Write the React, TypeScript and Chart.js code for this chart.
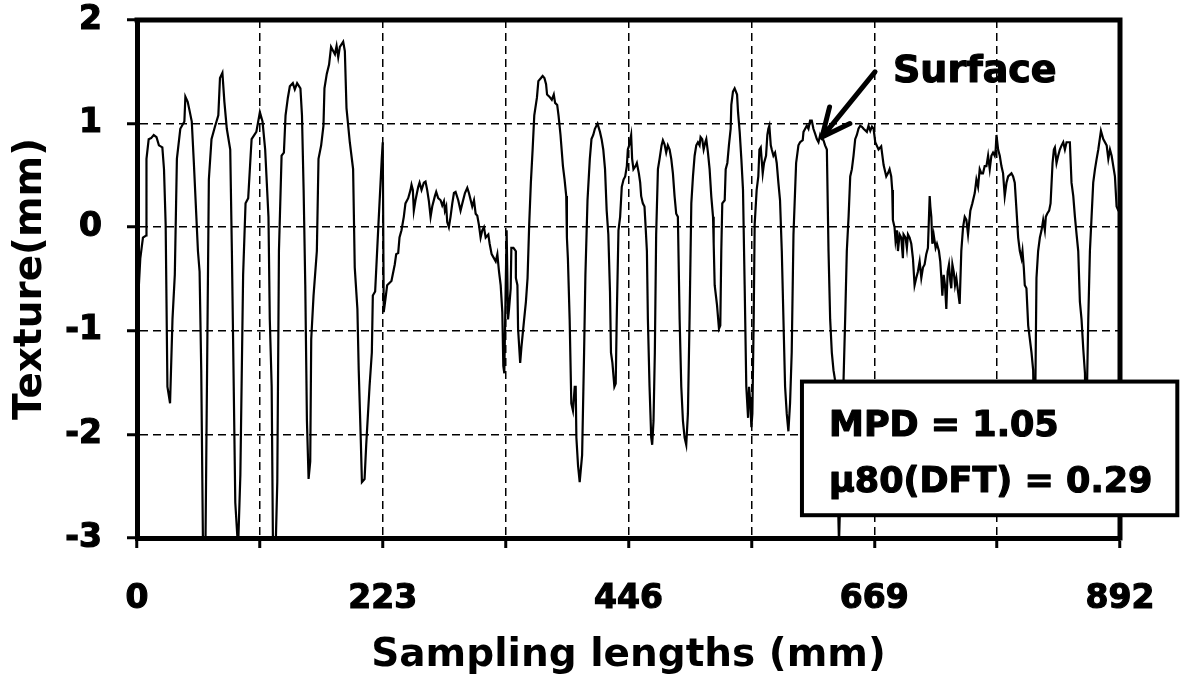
import { useEffect, useRef } from "react";
import { Chart, registerables } from "chart.js";

Chart.register(...registerables);

// ---- axis definition ----
const X_MIN = 0;
const X_MAX = 892;
const X_GRID_STEP = 111.5;
const X_LABEL_STEP = 223;
const Y_MIN = -3;
const Y_MAX = 2;
const Y_STEP = 1;
const X_TITLE = "Sampling lengths (mm)";
const Y_TITLE = "Texture(mm)";
const BOX_LINES = ["MPD = 1.05", "\u03bc80(DFT) = 0.29"];
const ARROW_LABEL = "Surface";

// ---- texture profile [sampling length (mm), texture (mm)] ----
const profile0to111: [number, number][] = [
  [0, -1.05], [1.5, -0.6], [3, -0.3], [5.4, -0.1], [8.2, -0.08], [8.6, 0.66], [10.6, 0.85], [12.8, 0.86],
  [15.2, 0.89], [17.7, 0.87], [19.9, 0.79], [23, 0.77], [24.5, 0.56], [26, 0.03], [27.6, -1.54], [30, -1.7],
  [32.2, -0.89], [34.3, -0.46], [36.2, 0.66], [39.3, 0.95], [43, 1.02], [43.9, 1.26], [46, 1.21], [47.6, 1.13],
  [49.7, 1.02], [51.6, 0.62], [55.3, -0.23], [56.8, -0.43], [58.3, -1.38], [59.9, -3.1], [62.1, -3.1], [65.2, 0.46],
  [67.6, 0.85], [70.7, 0.97], [73.8, 1.08], [75.3, 1.44], [77.5, 1.49], [79.3, 1.21], [81.5, 0.95], [84.6, 0.75],
  [86.1, -0.23], [87.7, -1.48], [89.2, -2.66], [91.7, -3.1], [93.8, -2.39], [96.3, -0.46], [98.5, 0.23], [100.9, 0.28],
  [103.1, 0.69], [104, 0.85], [108.3, 0.92],
];
const profile111to223: [number, number][] = [
  [111.5, 1.11], [113.9, 1.02], [116.3, 0.75], [119.3, 0.1], [120.5, -0.89], [122.2, -1.54], [123.4, -3.1], [125.8, -3.1],
  [127.3, -2.46], [128.8, -0.23], [131.2, 0.69], [133.3, 0.72], [134.8, 1.08], [136.9, 1.25], [138.7, 1.36], [141.4, 1.39],
  [143.2, 1.33], [145.3, 1.39], [148.3, 1.34], [149.7, 1.08], [151.2, 0.36], [152.7, -0.56], [154.2, -1.87], [155.7, -2.43],
  [157.2, -2.26], [158.1, -1.08], [160.2, -0.66], [163.2, -0.23], [164.7, 0.66], [167.1, 0.79], [169.2, 0.98], [170.1, 1.34],
  [172.2, 1.48], [174.3, 1.57], [176.1, 1.74], [179.6, 1.67], [181.1, 1.75], [182.6, 1.64], [184.1, 1.74], [187.1, 1.79],
  [188.6, 1.7], [190.1, 1.15], [193.1, 0.82], [196.1, 0.56], [197.6, -0.39], [200, -0.79], [201.2, -1.38], [203, -2.03],
  [204.1, -2.46], [206.5, -2.43], [208, -2.1], [211, -1.54], [213.1, -1.21], [214, -0.66], [216.1, -0.62], [219.1, 0.03],
  [222.1, 0.66],
];
const profile223to334: [number, number][] = [
  [223, 0.82], [223.9, -0.82], [225.5, -0.69], [227, -0.56], [230.9, -0.52], [233.9, -0.36], [235.2, -0.26], [237, -0.25],
  [238.2, -0.1], [240, -0.03], [242.1, 0.1], [243.6, 0.23], [246.1, 0.28], [248.2, 0.36], [249.1, 0.41], [250.3, 0.36],
  [251.2, 0.16], [252.7, 0.26], [255.2, 0.39], [256.4, 0.43], [258.2, 0.36], [260.3, 0.43], [261.8, 0.44], [263.3, 0.36],
  [264.9, 0.25], [266.4, 0.1], [267.9, 0.2], [270.3, 0.3], [271.5, 0.34], [273.3, 0.28], [275.5, 0.26], [277, 0.21],
  [278.5, 0.25], [279.4, 0.16], [280.6, 0.2], [281.5, 0.05], [283, 0], [284.5, 0.1], [286.1, 0.23], [287.6, 0.33],
  [289.1, 0.34], [291.5, 0.26], [293.6, 0.16], [295.2, 0.23], [297.6, 0.33], [299.7, 0.38], [301.2, 0.33], [304.2, 0.2],
  [305.8, 0.26], [307.3, 0.13], [308.8, 0.11], [310.3, 0.02], [311.8, -0.1], [313.3, -0.03], [314.8, 0], [316.4, -0.1],
  [318.8, -0.07], [320, -0.16], [321.8, -0.26], [325.5, -0.33], [327, -0.26], [328.5, -0.43], [330, -0.56], [331.5, -0.82],
  [332.4, -1.34], [333.3, -1.41],
];
const profile334to446: [number, number][] = [
  [335.4, -0.03], [336.7, -0.89], [337.6, -0.79], [339.1, -0.59], [339.7, -0.2], [341.6, -0.2], [343.7, -0.23], [343.8, -0.49],
  [345.2, -0.56], [345.8, -0.98], [347.7, -1.31], [348.9, -1.15], [351.3, -0.89], [352.9, -0.72], [354.4, -0.49], [355.9, 0.03],
  [357.4, 0.43], [359, 0.75], [360.5, 1.08], [362.9, 1.25], [364.2, 1.41], [366.6, 1.44], [368.1, 1.46], [369.7, 1.44],
  [371.2, 1.38], [372.1, 1.28], [374.2, 1.26], [376.4, 1.23], [378.2, 1.28], [379.4, 1.2], [381.3, 1.18], [382.5, 1.08],
  [384.3, 0.89], [386.5, 0.59], [388, 0.46], [389.5, 0.3], [390.1, -0.1], [391, -0.3], [392.6, -0.89], [394.1, -1.7],
  [395.6, -1.77], [397.2, -1.54], [398.1, -1.54], [398.7, -2.03], [400.2, -2.3], [401.7, -2.46], [403.9, -2.2], [405.7, -1.21],
  [406.9, -0.46], [408.8, 0.26], [410.9, 0.66], [412.4, 0.85], [414, 0.89], [415.5, 0.95], [417.9, 1], [420.1, 0.92],
  [421.6, 0.85], [423.1, 0.75], [424.7, 0.56], [426.2, 0.16], [427.7, -0.07], [429.2, -0.62], [430.1, -1.21], [431.4, -1.31],
  [433.2, -1.54], [434.4, -1.51], [435.3, -0.89], [436.9, -0.03], [438.4, 0.1], [439.9, 0.39], [441.5, 0.46], [443, 0.49],
  [444.5, 0.59], [445.4, 0.75], [446.6, 0.79],
];
const profile446to557: [number, number][] = [
  [448.4, 0.89], [449.3, 0.66], [450.5, 0.56], [452.4, 0.59], [453.6, 0.62], [455.4, 0.52], [456.6, 0.43], [457.5, 0.3],
  [459, 0.23], [460.5, 0.2], [461.4, 0.03], [462.7, -0.23], [463.6, -0.89], [465.1, -1.54], [466.6, -2.03], [467.5, -2.1],
  [468.7, -1.87], [469.9, -1.21], [471.1, -0.07], [472.7, 0.56], [474.2, 0.66], [476, 0.79], [477.2, 0.84], [478.7, 0.8],
  [480.2, 0.72], [481.7, 0.79], [483.3, 0.75], [484.8, 0.66], [486.3, 0.52], [487.8, 0.3], [489.3, 0.13], [490.8, 0.1],
  [492.4, -0.89], [493.9, -1.54], [495.4, -1.87], [496.9, -2.03], [498.4, -2.1], [499.9, -1.8], [501.4, -0.89], [503, 0.23],
  [504.5, 0.49], [506, 0.69], [507.5, 0.79], [509, 0.82], [510.5, 0.79], [511.4, 0.87], [512.9, 0.85], [514.2, 0.75],
  [515.7, 0.82], [516.6, 0.85], [518.1, 0.72], [519.6, 0.56], [521.1, 0.3], [522.7, 0.1], [523.3, -0.16], [524.2, -0.56],
  [526.3, -0.75], [528.1, -0.98], [529.3, -0.95], [530.2, -0.23], [531.1, 0.23], [533.3, 0.26], [534.2, 0.56], [535.7, 0.62],
  [537.2, 0.8], [538.7, 0.95], [539.3, 1.18], [540.8, 1.31], [542.3, 1.34], [544.5, 1.28], [545.4, 1.11], [546.9, 0.92],
  [548.4, 0.66], [549.9, 0.36], [551.4, -0.56], [552.9, -1.54], [554.5, -1.84], [555.4, -1.54], [556.6, -1.7], [557.5, -1.93],
];
const profile557to669: [number, number][] = [
  [558.4, -1.8], [559.6, -0.89], [560.5, 0.03], [562.3, 0.36], [563.8, 0.49], [564.8, 0.75], [566, 0.77], [567.8, 0.52],
  [569, 0.62], [570.8, 0.69], [572, 0.89], [572.9, 0.95], [573.8, 0.98], [575.1, 0.79], [576, 0.75], [577.5, 0.69],
  [579, 0.72], [580.5, 0.62], [582, 0.43], [583.5, 0.26], [585.1, -0.23], [586.6, -0.89], [588.1, -1.54], [589.6, -1.8],
  [591.1, -1.97], [592.6, -1.7], [594.1, -1.21], [595.7, -0.07], [597.2, 0.36], [598.1, 0.62], [600.2, 0.79], [601.7, 0.82],
  [604.1, 0.84], [604.8, 0.92], [606.3, 0.95], [607.8, 0.98], [609.3, 0.95], [610.8, 1.03], [612.3, 1.03], [613.8, 0.95],
  [615.4, 0.9], [616.9, 0.85], [618.4, 0.82], [619.9, 0.89], [621.4, 0.85], [622.9, 0.84], [624.4, 0.79], [626, 0.75],
  [627.5, -0.23], [629, -0.89], [630.5, -1.21], [632, -1.38], [633.5, -1.48], [637, -3.05], [641.1, -1.49], [642.6, -0.89],
  [644.1, -0.23], [645.7, 0.1], [647.2, 0.49], [648.7, 0.56], [650.2, 0.69], [651.7, 0.85], [653.2, 0.89], [654.7, 0.95],
  [656.3, 0.98], [657.8, 0.97], [659.3, 0.95], [662.3, 0.92], [663.8, 0.98], [665.4, 0.93], [666.9, 0.97], [668.4, 0.95],
];
const profile669to780: [number, number][] = [
  [669.9, 0.82], [672.9, 0.75], [675.3, 0.78], [677.5, 0.6], [679.9, 0.49], [681.4, 0.52], [682.9, 0.56], [684.4, 0.49],
  [685.3, 0.36], [685.9, 0.07], [687.4, 0], [688.3, -0.13], [689.6, -0.03], [690.5, -0.23], [692, -0.07], [693.5, -0.1],
  [695, -0.3], [695.6, -0.07], [697.4, -0.1], [698.6, -0.2], [699.6, -0.07], [701.1, -0.1], [702.6, -0.16], [704.1, -0.3],
  [705.6, -0.56], [707.1, -0.49], [708.6, -0.43], [710.2, -0.33], [711.7, -0.49], [713.2, -0.39], [714.7, -0.36], [716.2, -0.26],
  [717.7, -0.2], [719.3, 0.3], [719.9, 0.2], [720.8, 0.1], [721.7, -0.16], [722.9, -0.07], [724.7, -0.2], [725.9, -0.16],
  [727.7, -0.23], [728.9, -0.33], [729.9, -0.49], [730.8, -0.66], [732, -0.46], [733.2, -0.56], [734.4, -0.79], [735.6, -0.43],
  [736.8, -0.36], [738, -0.52], [738.9, -0.59], [739.9, -0.36], [741.1, -0.43], [742.3, -0.56], [743.5, -0.49], [745, -0.62],
  [746.5, -0.74], [748, -0.23], [749.6, 0], [751.1, 0.1], [752.6, 0.07], [754.1, -0.07], [755, 0.03], [756.2, 0.16],
  [758, 0.23], [760.2, 0.33], [761.7, 0.46], [763.2, 0.39], [764.7, 0.56], [766.2, 0.52], [767.7, 0.52], [769.2, 0.59],
  [770.8, 0.59], [772.3, 0.69], [773.8, 0.56], [775.3, 0.69], [776.8, 0.72], [778.3, 0.69], [779.2, 0.75], [779.9, 0.89],
];
const profile780to892: [number, number][] = [
  [781.4, 0.75], [782.9, 0.69], [784.4, 0.59], [785.9, 0.52], [787.4, 0.3], [789, 0.43], [790.5, 0.49], [793.5, 0.52],
  [795, 0.49], [796.5, 0.43], [798.1, 0.16], [799.6, -0.1], [801.1, -0.23], [802.6, -0.3], [803.5, -0.23], [804.7, -0.39],
  [805.6, -0.56], [807.1, -0.59], [808.7, -0.95], [810.2, -1.08], [811.7, -1.21], [813.2, -1.38], [814.5, -2.3], [816.2, -0.49],
  [817.7, -0.23], [819.3, -0.1], [820.8, -0.03], [822.3, 0.07], [823.8, -0.03], [824.7, 0.1], [825.9, 0.13], [827.7, 0.16],
  [829, 0.23], [830.8, 0.62], [832, 0.75], [832.9, 0.77], [834.4, 0.62], [835.9, 0.69], [837.4, 0.75], [839, 0.79],
  [840.5, 0.82], [842, 0.75], [843.5, 0.82], [846.5, 0.82], [848, 0.43], [849.6, 0.3], [851.1, 0.1], [852.6, -0.07],
  [854.1, -0.23], [855.6, -0.72], [857.1, -0.89], [858.7, -1.18], [860.2, -1.41], [861.1, -2.3], [862.3, -1.41], [863.2, -0.89],
  [864.7, -0.23], [866.2, 0.1], [867.7, 0.43], [869.3, 0.56], [870.8, 0.66], [872.3, 0.75], [874.7, 0.93], [876.8, 0.85],
  [879.9, 0.79], [881.4, 0.66], [882.9, 0.75], [884.4, 0.69], [887.4, 0.49], [888.9, 0.2], [890.5, 0.16], [892, 0.15],
];

const FONT = "'DejaVu Sans', sans-serif";

const overlayPlugin = {
  id: "overlay",
  afterDatasetsDraw(chart: any) {
    const { ctx, chartArea: a, scales } = chart;
    const xs = scales.x;
    const ys = scales.y;
    ctx.save();
    // top and right frame
    ctx.strokeStyle = "#000";
    ctx.lineWidth = 5;
    ctx.lineCap = "square";
    ctx.lineJoin = "miter";
    ctx.beginPath();
    ctx.moveTo(a.left, a.top);
    ctx.lineTo(a.right, a.top);
    ctx.lineTo(a.right, a.bottom);
    ctx.stroke();

    // result box
    const bx0 = xs.getPixelForValue(603.4);
    const bx1 = xs.getPixelForValue(944);
    const by0 = ys.getPixelForValue(-1.49);
    const by1 = ys.getPixelForValue(-2.78);
    ctx.fillStyle = "#fff";
    ctx.fillRect(bx0, by0, bx1 - bx0, by1 - by0);
    ctx.lineWidth = 4;
    ctx.lineCap = "butt";
    ctx.strokeRect(bx0, by0, bx1 - bx0, by1 - by0);
    ctx.fillStyle = "#000";
    ctx.lineWidth = 1.2;
    ctx.lineJoin = "round";
    ctx.font = `bold 35px ${FONT}`;
    ctx.textAlign = "left";
    ctx.textBaseline = "middle";
    const tx0 = xs.getPixelForValue(628);
    const l1 = ys.getPixelForValue(-1.93);
    const l2 = ys.getPixelForValue(-2.47);
    ctx.fillText(BOX_LINES[0], tx0, l1);
    ctx.strokeText(BOX_LINES[0], tx0, l1);
    ctx.fillText(BOX_LINES[1], tx0, l2);
    ctx.strokeText(BOX_LINES[1], tx0, l2);

    // arrow pointing to the surface
    const tx = xs.getPixelForValue(669.7);
    const ty = ys.getPixelForValue(1.5);
    const hx = xs.getPixelForValue(621.6);
    const hy = ys.getPixelForValue(0.87);
    ctx.lineWidth = 5;
    ctx.lineCap = "round";
    ctx.beginPath();
    ctx.moveTo(tx, ty);
    ctx.lineTo(hx, hy);
    const ang = Math.atan2(ty - hy, tx - hx);
    const wing = 31;
    const spread = (25 * Math.PI) / 180;
    ctx.moveTo(hx + wing * Math.cos(ang - spread), hy + wing * Math.sin(ang - spread));
    ctx.lineTo(hx, hy);
    ctx.lineTo(hx + wing * Math.cos(ang + spread), hy + wing * Math.sin(ang + spread));
    ctx.stroke();

    ctx.font = `bold 38px ${FONT}`;
    ctx.lineWidth = 1.2;
    const sx = xs.getPixelForValue(686);
    const sy = ys.getPixelForValue(1.5);
    ctx.fillText(ARROW_LABEL, sx, sy);
    ctx.strokeText(ARROW_LABEL, sx, sy);
    ctx.restore();
  },
};

export default function App() {
  const canvasRef = useRef<HTMLCanvasElement | null>(null);

  useEffect(() => {
    document.body.style.margin = "0";
    const canvas = canvasRef.current;
    if (!canvas) return;
    const data = [
      ...profile0to111,
      ...profile111to223,
      ...profile223to334,
      ...profile334to446,
      ...profile446to557,
      ...profile557to669,
      ...profile669to780,
      ...profile780to892,
    ].map(([x, y]) => ({ x, y }));

    const tickFont = { family: FONT, size: 33, weight: "bold" as const };
    const titleFont = { family: FONT, size: 39, weight: "bold" as const };
    const gridOpts = {
      color: "#000",
      lineWidth: 1.5,
      drawTicks: true,
      tickLength: 10,
      tickWidth: 3,
      tickColor: "#000",
      tickBorderDash: [],
    };

    const chart = new Chart(canvas, {
      type: "line",
      data: {
        datasets: [
          {
            data,
            borderColor: "#000",
            borderWidth: 2.2,
            pointRadius: 0,
            tension: 0,
            fill: false,
          },
        ],
      },
      options: {
        animation: false,
        responsive: true,
        maintainAspectRatio: false,
        layout: { padding: { top: 20, right: 68, bottom: 0, left: 0 } },
        plugins: { legend: { display: false }, tooltip: { enabled: false } },
        scales: {
          x: {
            type: "linear",
            min: X_MIN,
            max: X_MAX,
            afterFit: (s: any) => {
              s.height = 149;
              s.paddingLeft = 0;
              s.paddingRight = 0;
            },
            ticks: {
              stepSize: X_GRID_STEP,
              autoSkip: false,
              maxRotation: 0,
              padding: 32,
              color: "#000",
              font: tickFont,
              textStrokeColor: "#000",
              textStrokeWidth: 1.2,
              callback: (v: any) => (Number(v) % X_LABEL_STEP === 0 ? String(v) : ""),
            },
            grid: gridOpts,
            border: { display: true, color: "#000", width: 5, dash: [8, 5] },
            title: { display: true, text: X_TITLE, color: "#000", font: titleFont, padding: { top: 0, bottom: 8 } },
          },
          y: {
            type: "linear",
            min: Y_MIN,
            max: Y_MAX,
            afterFit: (s: any) => {
              s.width = 137;
              s.paddingTop = 0;
              s.paddingBottom = 0;
            },
            ticks: {
              stepSize: Y_STEP,
              padding: 25,
              color: "#000",
              font: tickFont,
              textStrokeColor: "#000",
              textStrokeWidth: 1.2,
            },
            grid: gridOpts,
            border: { display: true, color: "#000", width: 5, dash: [8, 5] },
            title: { display: true, text: Y_TITLE, color: "#000", font: titleFont, padding: { top: 7, bottom: 0 } },
          },
        },
      },
      plugins: [overlayPlugin],
    });
    return () => chart.destroy();
  }, []);

  return (
    <div style={{ width: 1188, height: 687, position: "relative" }}>
      <canvas ref={canvasRef} />
    </div>
  );
}
